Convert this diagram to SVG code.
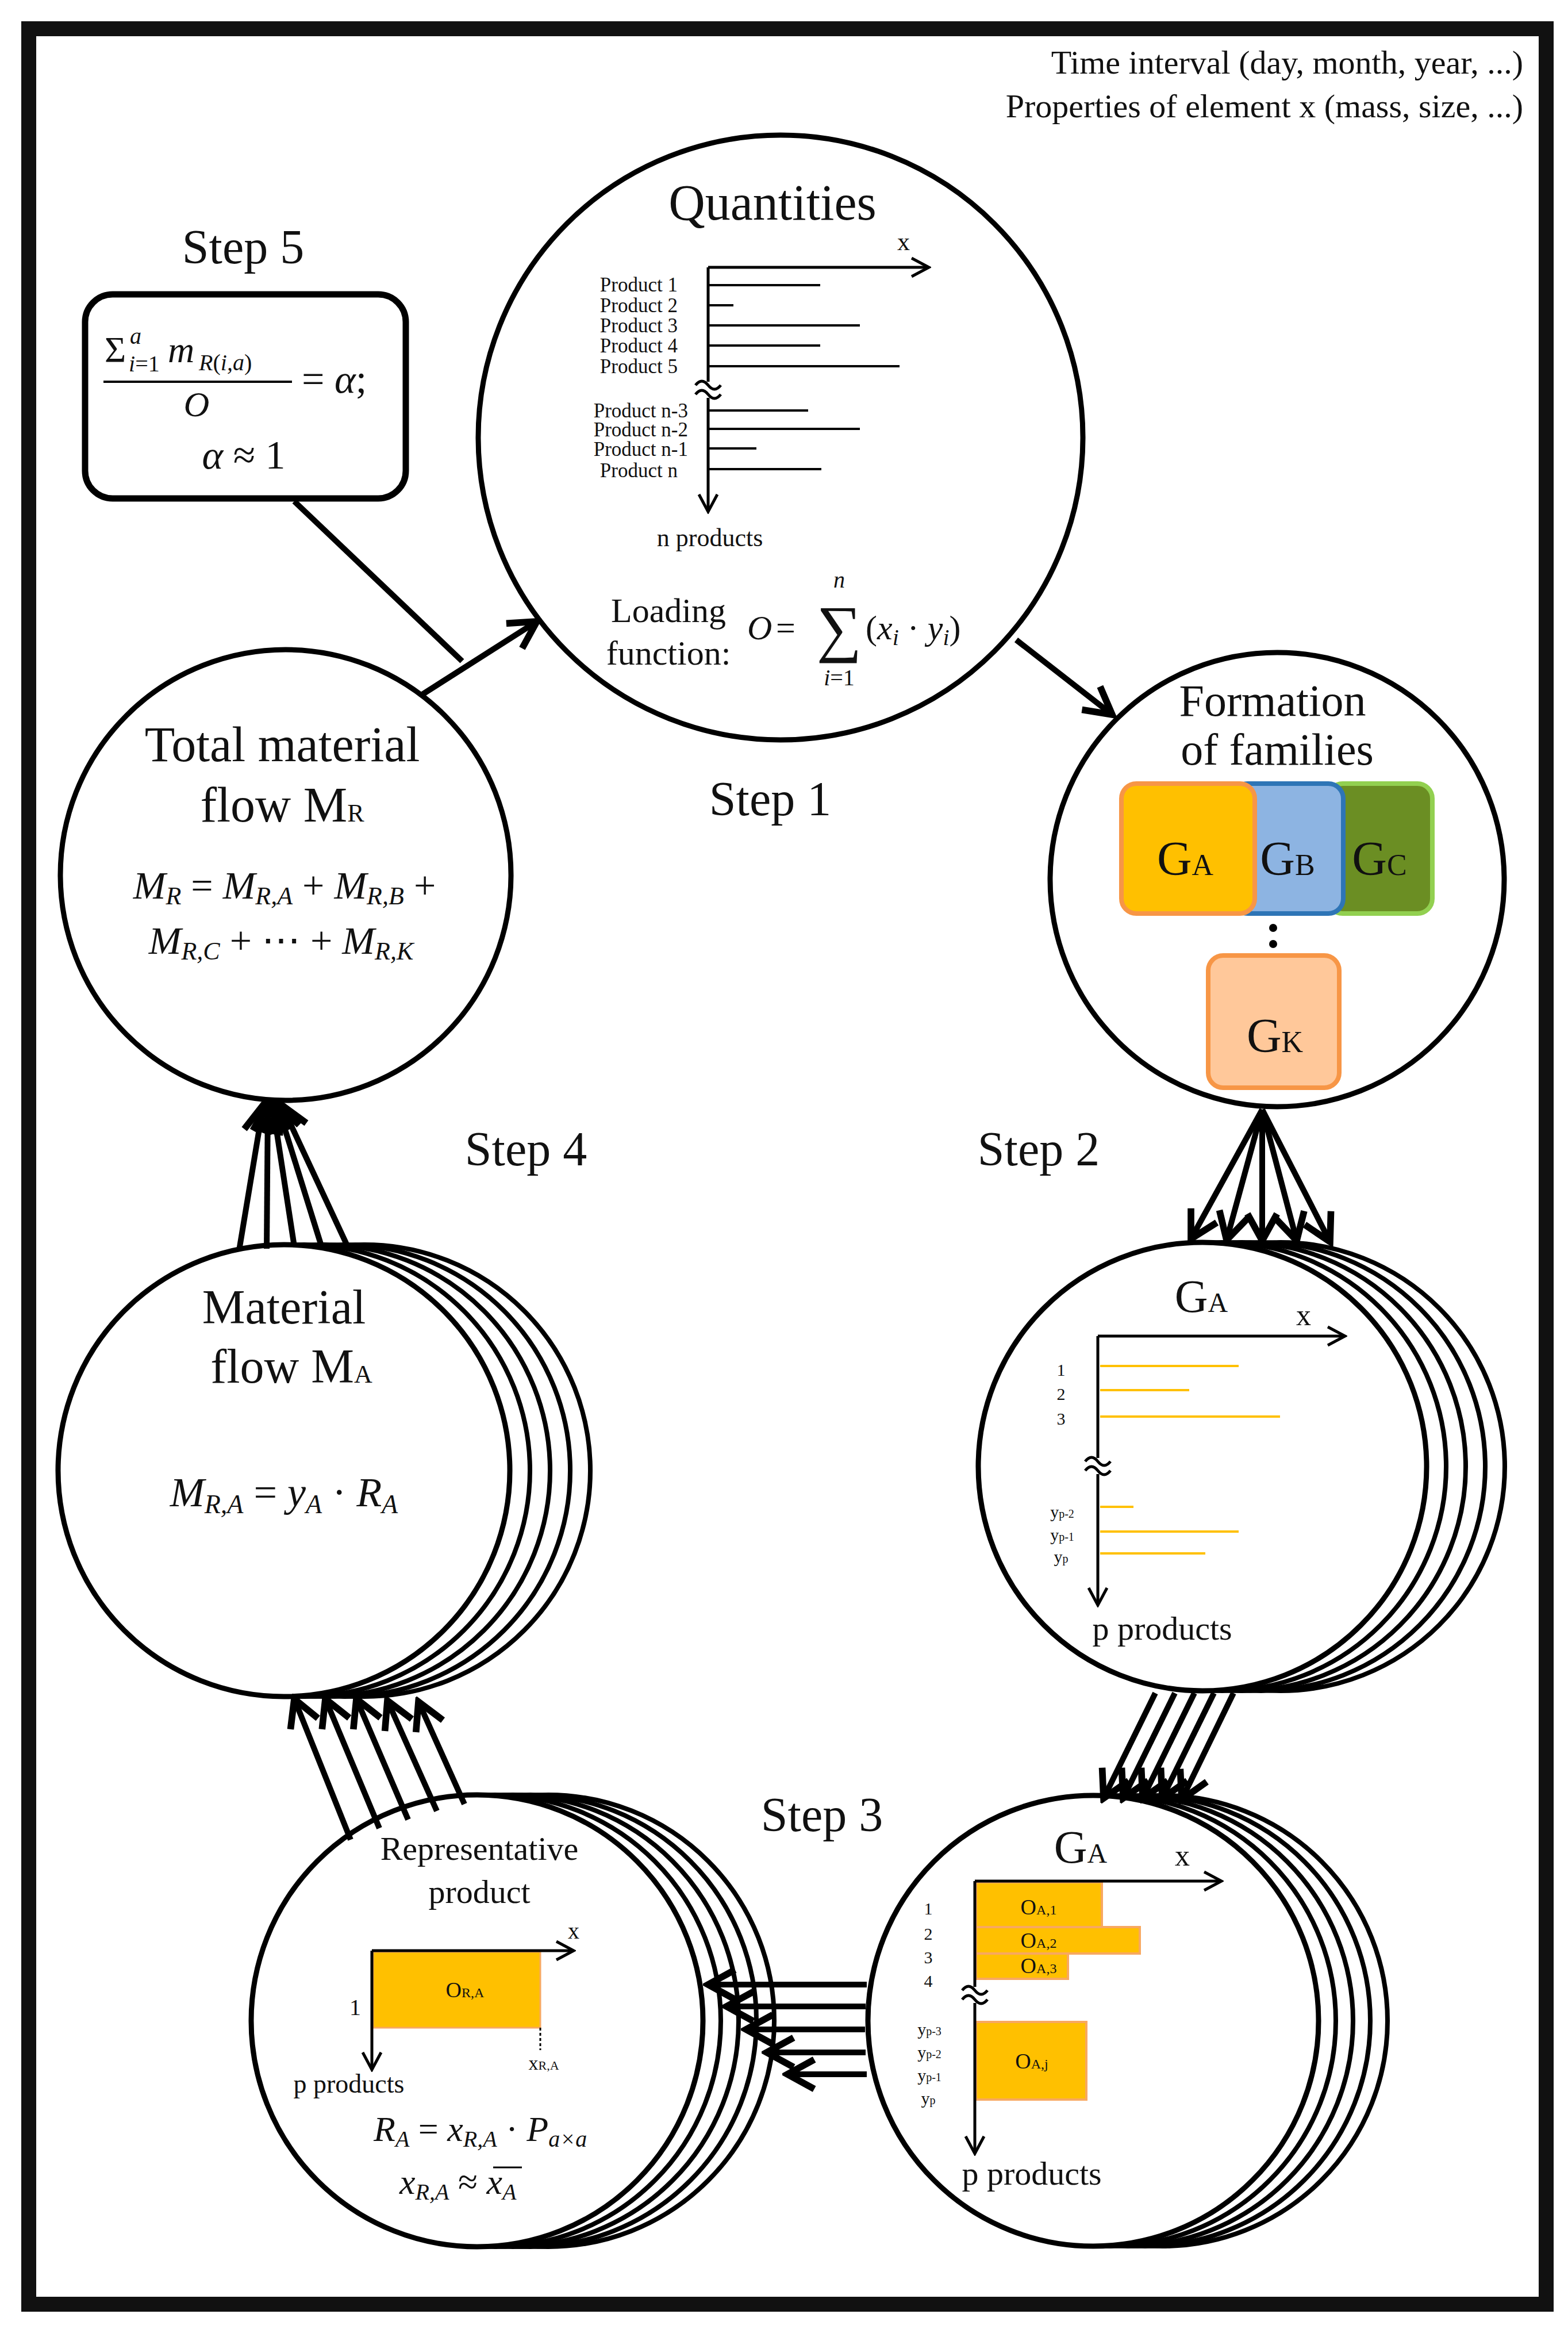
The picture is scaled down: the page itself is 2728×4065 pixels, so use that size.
<svg xmlns="http://www.w3.org/2000/svg" width="2728" height="4065" viewBox="0 0 2728 4065">
<style>
text{font-family:"Liberation Serif","Times New Roman",serif;fill:#111}
.m{font-style:italic}
.c{fill:#fff;stroke:#000;stroke-width:9}
.bk{fill:#fff;stroke:#000;stroke-width:8}
.ax{stroke:#000;stroke-width:5;fill:none}
.bar{stroke:#000;stroke-width:4}
.yb{stroke:#FFC000;stroke-width:4}
.con{stroke:#000;stroke-width:10;fill:none}
.mid{text-anchor:middle}
.end{text-anchor:end}
</style>
<defs>
<marker id="ah" markerUnits="userSpaceOnUse" markerWidth="70" markerHeight="70" viewBox="0 0 60 60" refX="52" refY="30" orient="auto"><path d="M12,8 L52,30 L12,52" fill="none" stroke="#000" stroke-width="10"/></marker>
<marker id="sa" markerUnits="userSpaceOnUse" markerWidth="40" markerHeight="40" viewBox="0 0 40 40" refX="36" refY="20" orient="auto"><path d="M6,4 L36,20 L6,36" fill="none" stroke="#000" stroke-width="5"/></marker>
<path id="sq" d="M-22,-4 q11,-14 22,0 t22,0 M-22,12 q11,-14 22,0 t22,0" fill="none" stroke="#000" stroke-width="5"/>
</defs>
<rect x="0" y="0" width="2728" height="4065" fill="#fff"/>
<rect x="50" y="50" width="2640" height="3958" fill="none" stroke="#111" stroke-width="26"/>
<g id="header">
<text x="2650" y="128" class="end" font-size="58">Time interval (day, month, year, ...)</text>
<text x="2650" y="204" class="end" font-size="58">Properties of element x (mass, size, ...)</text>
</g>
<g id="labels">
<text x="423" y="458" class="mid" font-size="84">Step 5</text>
<text x="1340" y="1418" class="mid" font-size="84">Step 1</text>
<text x="1807" y="2027" class="mid" font-size="84">Step 2</text>
<text x="915" y="2027" class="mid" font-size="84">Step 4</text>
<text x="1430" y="3185" class="mid" font-size="84">Step 3</text>
</g>
<g id="step5">
<rect x="148" y="512" width="558" height="355" rx="48" fill="#fff" stroke="#000" stroke-width="11"/>
<text x="182" y="630" font-size="64">Σ</text>
<text x="226" y="598" class="m" font-size="40">a</text>
<text x="224" y="646" font-size="40"><tspan class="m">i</tspan>=1</text>
<text x="292" y="630" class="m" font-size="64">m</text>
<text x="346" y="644" font-size="40"><tspan class="m">R</tspan>(<tspan class="m">i,a</tspan>)</text>
<line x1="180" y1="664" x2="508" y2="664" stroke="#000" stroke-width="4"/>
<text x="342" y="724" class="mid m" font-size="62">O</text>
<text x="525" y="683" font-size="70">= <tspan class="m">α</tspan>;</text>
<text x="424" y="815" class="mid" font-size="70"><tspan class="m">α</tspan> ≈ 1</text>
</g>
<g id="step1">
<circle class="c" cx="1358" cy="761" r="526"/>
<text x="1344" y="382" class="mid" font-size="88">Quantities</text>
<line class="ax" x1="1232" y1="465" x2="1232" y2="890" marker-end="url(#sa)"/>
<line class="ax" x1="1232" y1="465" x2="1616" y2="465" marker-end="url(#sa)"/>
<text x="1572" y="435" class="mid" font-size="44">x</text>
<g class="bar">
<line x1="1232" y1="496" x2="1427" y2="496"/><line x1="1232" y1="531" x2="1276" y2="531"/><line x1="1232" y1="566" x2="1496" y2="566"/><line x1="1232" y1="601" x2="1427" y2="601"/><line x1="1232" y1="637" x2="1565" y2="637"/>
<line x1="1232" y1="714" x2="1406" y2="714"/><line x1="1232" y1="746" x2="1496" y2="746"/><line x1="1232" y1="780" x2="1316" y2="780"/><line x1="1232" y1="816" x2="1429" y2="816"/>
</g>
<rect x="1212" y="664" width="40" height="28" fill="#fff"/>
<use href="#sq" x="1232" y="674"/>
<g font-size="35" class="end">
<text x="1179" y="507">Product 1</text><text x="1179" y="543">Product 2</text><text x="1179" y="578">Product 3</text><text x="1179" y="613">Product 4</text><text x="1179" y="649">Product 5</text>
<text x="1197" y="726">Product n-3</text><text x="1197" y="759">Product n-2</text><text x="1197" y="793">Product n-1</text><text x="1179" y="830">Product n</text>
</g>
<text x="1235" y="950" class="mid" font-size="44">n products</text>
<text x="1163" y="1082" class="mid" font-size="60">Loading</text>
<text x="1163" y="1156" class="mid" font-size="60">function:</text>
<text x="1300" y="1112" class="m" font-size="60">O</text>
<text x="1350" y="1112" font-size="60">=</text>
<text x="1460" y="1130" class="mid" font-size="110">∑</text>
<text x="1460" y="1022" class="mid m" font-size="40">n</text>
<text x="1460" y="1192" class="mid" font-size="40"><tspan class="m">i</tspan>=1</text>
<text x="1506" y="1112" font-size="60">(<tspan class="m">x</tspan><tspan class="m" font-size="40" dy="10">i</tspan><tspan dy="-10"> · </tspan><tspan class="m">y</tspan><tspan class="m" font-size="40" dy="10">i</tspan><tspan dy="-10">)</tspan></text>
</g>
<g id="step2-families">
<circle class="c" cx="2222" cy="1530" r="395"/>
<text x="2214" y="1245" class="mid" font-size="78">Formation</text>
<text x="2222" y="1330" class="mid" font-size="78">of families</text>
<rect x="2310" y="1363" width="182" height="226" rx="26" fill="#6B8E23" stroke="#92D050" stroke-width="8"/>
<rect x="2145" y="1363" width="192" height="226" rx="26" fill="#8DB4E2" stroke="#2E75B6" stroke-width="8"/>
<rect x="1951" y="1363" width="232" height="226" rx="26" fill="#FFC000" stroke="#F79646" stroke-width="8"/>
<rect x="2102" y="1662" width="228" height="230" rx="26" fill="#FFC89A" stroke="#F79646" stroke-width="8"/>
<text x="2062" y="1522" class="mid" font-size="84">G<tspan font-size="52">A</tspan></text>
<text x="2240" y="1522" class="mid" font-size="84">G<tspan font-size="52">B</tspan></text>
<text x="2400" y="1522" class="mid" font-size="84">G<tspan font-size="52">C</tspan></text>
<text x="2218" y="1830" class="mid" font-size="84">G<tspan font-size="52">K</tspan></text>
<circle cx="2215" cy="1614" r="7" fill="#000"/><circle cx="2215" cy="1642" r="7" fill="#000"/>
</g>
<g id="step2-GA">
<circle class="bk" cx="2228" cy="2551" r="390"/><circle class="bk" cx="2194" cy="2551" r="390"/><circle class="bk" cx="2160" cy="2551" r="390"/><circle class="bk" cx="2126" cy="2551" r="390"/>
<circle class="c" cx="2092" cy="2551" r="390"/>
<text x="2090" y="2282" class="mid" font-size="80">G<tspan font-size="48">A</tspan></text>
<text x="2268" y="2305" class="mid" font-size="52">x</text>
<line class="ax" x1="1910" y1="2324" x2="1910" y2="2792" marker-end="url(#sa)"/>
<line class="ax" x1="1910" y1="2324" x2="2340" y2="2324" marker-end="url(#sa)"/>
<g class="yb">
<line x1="1914" y1="2376" x2="2155" y2="2376"/><line x1="1914" y1="2418" x2="2069" y2="2418"/><line x1="1914" y1="2464" x2="2227" y2="2464"/>
<line x1="1914" y1="2621" x2="1972" y2="2621"/><line x1="1914" y1="2664" x2="2155" y2="2664"/><line x1="1914" y1="2702" x2="2097" y2="2702"/>
</g>
<rect x="1890" y="2536" width="40" height="28" fill="#fff"/>
<use href="#sq" x="1910" y="2546"/>
<g font-size="30" class="mid">
<text x="1846" y="2393">1</text><text x="1846" y="2435">2</text><text x="1846" y="2478">3</text>
<text x="1848" y="2640">y<tspan font-size="20">p-2</tspan></text><text x="1848" y="2680">y<tspan font-size="20">p-1</tspan></text><text x="1846" y="2718">y<tspan font-size="20">p</tspan></text>
</g>
<text x="2022" y="2852" class="mid" font-size="58">p products</text>
</g>
<g id="step3-GA">
<circle class="bk" cx="2022" cy="3515" r="392"/><circle class="bk" cx="1992" cy="3515" r="392"/><circle class="bk" cx="1962" cy="3515" r="392"/><circle class="bk" cx="1932" cy="3515" r="392"/>
<circle class="c" cx="1902" cy="3515" r="392"/>
<text x="1880" y="3240" class="mid" font-size="80">G<tspan font-size="48">A</tspan></text>
<text x="2057" y="3245" class="mid" font-size="52">x</text>
<rect x="1698" y="3274" width="219" height="78" fill="#FFC000" stroke="#F8A860" stroke-width="4"/>
<rect x="1698" y="3352" width="285" height="46" fill="#FFC000" stroke="#F8A860" stroke-width="4"/>
<rect x="1698" y="3398" width="160" height="44" fill="#FFC000" stroke="#F8A860" stroke-width="4"/>
<rect x="1698" y="3517" width="192" height="135" fill="#FFC000" stroke="#F8A860" stroke-width="4"/>
<line class="ax" x1="1696" y1="3272" x2="1696" y2="3746" marker-end="url(#sa)"/>
<line class="ax" x1="1696" y1="3272" x2="2125" y2="3272" marker-end="url(#sa)"/>
<rect x="1676" y="3456" width="40" height="28" fill="#fff"/>
<use href="#sq" x="1696" y="3466"/>
<g font-size="38" class="mid">
<text x="1807" y="3330">O<tspan font-size="24">A,1</tspan></text>
<text x="1807" y="3388">O<tspan font-size="24">A,2</tspan></text>
<text x="1807" y="3432">O<tspan font-size="24">A,3</tspan></text>
<text x="1795" y="3598">O<tspan font-size="24">A,j</tspan></text>
</g>
<g font-size="30" class="mid">
<text x="1615" y="3330">1</text><text x="1615" y="3374">2</text><text x="1615" y="3415">3</text><text x="1615" y="3456">4</text>
<text x="1617" y="3540">y<tspan font-size="20">p-3</tspan></text><text x="1617" y="3580">y<tspan font-size="20">p-2</tspan></text><text x="1617" y="3620">y<tspan font-size="20">p-1</tspan></text><text x="1615" y="3660">y<tspan font-size="20">p</tspan></text>
</g>
<text x="1795" y="3800" class="mid" font-size="58">p products</text>
</g>
<g id="step3-rep">
<circle class="bk" cx="954" cy="3515" r="393"/><circle class="bk" cx="923" cy="3515" r="393"/><circle class="bk" cx="892" cy="3515" r="393"/><circle class="bk" cx="861" cy="3515" r="393"/>
<circle class="c" cx="830" cy="3515" r="393"/>
<text x="834" y="3235" class="mid" font-size="58">Representative</text>
<text x="834" y="3310" class="mid" font-size="58">product</text>
<rect x="649" y="3395" width="291" height="132" fill="#FFC000" stroke="#F8A860" stroke-width="3"/>
<line class="ax" x1="647" y1="3393" x2="647" y2="3600" marker-end="url(#sa)"/>
<line class="ax" x1="647" y1="3393" x2="998" y2="3393" marker-end="url(#sa)"/>
<text x="998" y="3372" class="mid" font-size="40">x</text>
<line x1="940" y1="3527" x2="940" y2="3566" stroke="#000" stroke-width="3" stroke-dasharray="5,4"/>
<text x="618" y="3505" class="mid" font-size="40">1</text>
<text x="809" y="3474" class="mid" font-size="38">O<tspan font-size="24">R,A</tspan></text>
<text x="946" y="3600" class="mid" font-size="34">x<tspan font-size="22">R,A</tspan></text>
<text x="607" y="3640" class="mid" font-size="46">p products</text>
<text x="650" y="3724" class="m" font-size="62">R<tspan font-size="40" dy="10">A</tspan><tspan dy="-10" style="font-style:normal"> = </tspan>x<tspan font-size="40" dy="10">R,A</tspan><tspan dy="-10" style="font-style:normal"> · </tspan>P<tspan font-size="40" dy="10">a×a</tspan></text>
<text x="695" y="3816" class="m" font-size="62">x<tspan font-size="40" dy="10">R,A</tspan><tspan dy="-10" style="font-style:normal"> ≈ </tspan>x<tspan font-size="40" dy="10">A</tspan></text>
<line x1="858" y1="3770" x2="908" y2="3770" stroke="#000" stroke-width="3"/>
</g>
<g id="step4-material">
<circle class="bk" cx="634" cy="2558" r="393"/><circle class="bk" cx="599" cy="2558" r="393"/><circle class="bk" cx="564" cy="2558" r="393"/><circle class="bk" cx="529" cy="2558" r="393"/>
<circle class="c" cx="494" cy="2558" r="393"/>
<text x="494" y="2302" class="mid" font-size="84">Material</text>
<text x="507" y="2405" class="mid" font-size="84">flow M<tspan font-size="44">A</tspan></text>
<text x="494" y="2620" class="mid m" font-size="72">M<tspan font-size="46" dy="12">R,A</tspan><tspan dy="-12" style="font-style:normal"> = </tspan>y<tspan font-size="46" dy="12">A</tspan><tspan dy="-12" style="font-style:normal"> · </tspan>R<tspan font-size="46" dy="12">A</tspan></text>
</g>
<g id="step5-total">
<circle class="c" cx="497" cy="1522" r="392"/>
<text x="491" y="1324" class="mid" font-size="86">Total material</text>
<text x="491" y="1429" class="mid" font-size="86">flow M<tspan font-size="44">R</tspan></text>
<text x="495" y="1563" class="mid m" font-size="68">M<tspan font-size="44" dy="10">R</tspan><tspan dy="-10" style="font-style:normal"> = </tspan>M<tspan font-size="44" dy="10">R,A</tspan><tspan dy="-10" style="font-style:normal"> + </tspan>M<tspan font-size="44" dy="10">R,B</tspan><tspan dy="-10" style="font-style:normal"> +</tspan></text>
<text x="489" y="1659" class="mid m" font-size="68">M<tspan font-size="44" dy="10">R,C</tspan><tspan dy="-10" style="font-style:normal"> + ⋯ + </tspan>M<tspan font-size="44" dy="10">R,K</tspan></text>
</g>
<g id="connectors" class="con">
<line x1="512" y1="872" x2="804" y2="1150"/>
<line x1="733" y1="1209" x2="934" y2="1081" marker-end="url(#ah)"/>
<line x1="1768" y1="1113" x2="1935" y2="1243" marker-end="url(#ah)"/>
<line x1="2196" y1="1930" x2="2072" y2="2155" marker-end="url(#ah)"/>
<line x1="2196" y1="1930" x2="2134" y2="2157" marker-end="url(#ah)"/>
<line x1="2196" y1="1930" x2="2196" y2="2158" marker-end="url(#ah)"/>
<line x1="2196" y1="1930" x2="2256" y2="2158" marker-end="url(#ah)"/>
<line x1="2196" y1="1930" x2="2314" y2="2160" marker-end="url(#ah)"/>
<line x1="2010" y1="2945" x2="1920" y2="3128" marker-end="url(#ah)"/>
<line x1="2044" y1="2945" x2="1954" y2="3128" marker-end="url(#ah)"/>
<line x1="2078" y1="2945" x2="1988" y2="3128" marker-end="url(#ah)"/>
<line x1="2112" y1="2945" x2="2022" y2="3128" marker-end="url(#ah)"/>
<line x1="2146" y1="2945" x2="2056" y2="3130" marker-end="url(#ah)"/>
<line x1="1508" y1="3452" x2="1232" y2="3452" marker-end="url(#ah)"/>
<line x1="1506" y1="3490" x2="1264" y2="3490" marker-end="url(#ah)"/>
<line x1="1505" y1="3530" x2="1298" y2="3530" marker-end="url(#ah)"/>
<line x1="1506" y1="3570" x2="1334" y2="3570" marker-end="url(#ah)"/>
<line x1="1508" y1="3608" x2="1370" y2="3608" marker-end="url(#ah)"/>
<line x1="610" y1="3200" x2="512" y2="2955" marker-end="url(#ah)"/>
<line x1="660" y1="3180" x2="566" y2="2955" marker-end="url(#ah)"/>
<line x1="710" y1="3165" x2="620" y2="2955" marker-end="url(#ah)"/>
<line x1="760" y1="3150" x2="674" y2="2958" marker-end="url(#ah)"/>
<line x1="808" y1="3138" x2="728" y2="2960" marker-end="url(#ah)"/>
<line x1="416" y1="2175" x2="458" y2="1922" marker-end="url(#ah)"/>
<line x1="464" y1="2172" x2="466" y2="1920" marker-end="url(#ah)"/>
<line x1="512" y1="2168" x2="474" y2="1920" marker-end="url(#ah)"/>
<line x1="560" y1="2170" x2="482" y2="1920" marker-end="url(#ah)"/>
<line x1="608" y1="2175" x2="490" y2="1922" marker-end="url(#ah)"/>
</g>
</svg>
